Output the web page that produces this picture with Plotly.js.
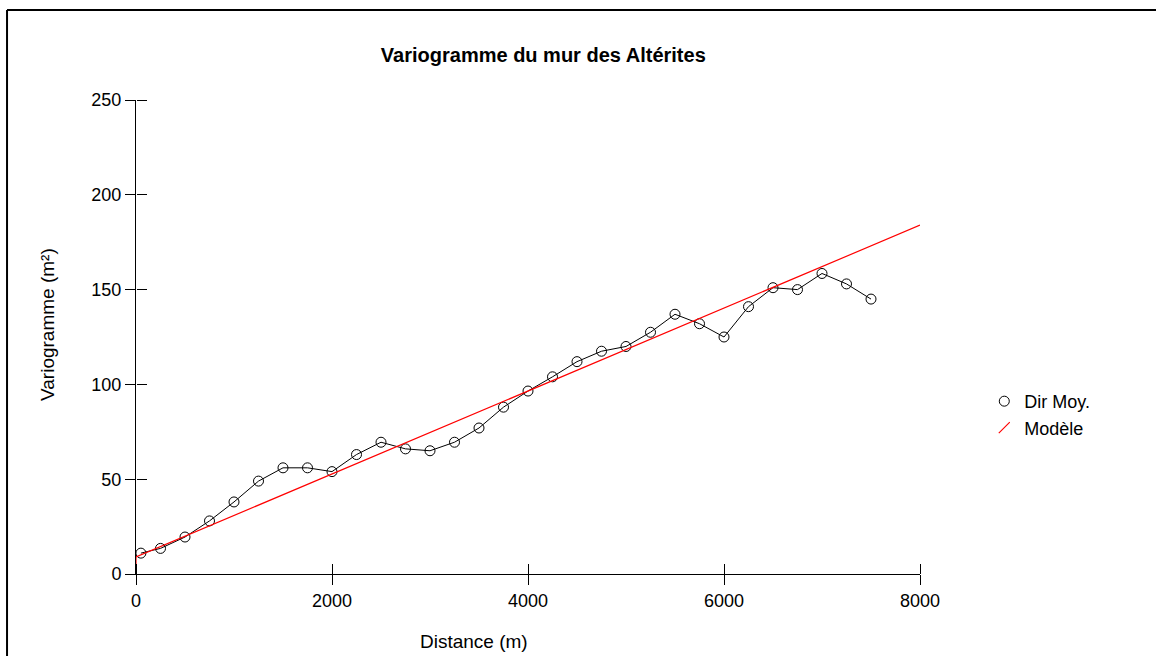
<!DOCTYPE html>
<html>
<head>
<meta charset="utf-8">
<script src="https://cdn.plot.ly/plotly-3.0.1.min.js"></script>
<style>
html,body{margin:0;padding:0;background:#fff;}
#chart{width:1156px;height:656px;}
</style>
</head>
<body>
<div id="chart"></div>
<script>
// Experimental variogram (Dir Moy.)
var distances = [50, 250, 500, 750, 1000, 1250, 1500, 1750, 2000, 2250, 2500, 2750, 3000, 3250, 3500, 3750, 4000, 4250, 4500, 4750, 5000, 5250, 5500, 5750, 6000, 6250, 6500, 6750, 7000, 7250, 7500];
var variogram = [11, 13.5, 19.5, 28, 38, 49, 56, 56, 54, 63, 69.5, 66, 65, 69.5, 77, 88, 96.5, 104, 112, 117.5, 120, 127.5, 137, 132, 125, 141, 151, 150, 158.5, 153, 145];
// Model (nugget + linear)
var modelX = [0, 0, 8000];
var modelY = [0, 9, 184];
var xTicks = [0, 2000, 4000, 6000, 8000];
var yTicks = [0, 50, 100, 150, 200, 250];

var FONT = 'Liberation Sans, Arial, sans-serif';

var traces = [
  {x: modelX, y: modelY, xaxis: 'x2', yaxis: 'y2', mode: 'lines', line: {color: '#ff0000', width: 1.2}, showlegend: false, hoverinfo: 'skip', cliponaxis: false},
  {x: distances, y: variogram, mode: 'lines', line: {color: '#000', width: 1}, showlegend: false, cliponaxis: false},
  {x: distances, y: variogram, mode: 'markers', name: 'Dir Moy.', cliponaxis: false,
   marker: {symbol: 'circle-open', size: 10, color: '#000', line: {color: '#000', width: 1}}},
  {x: [null], y: [null], mode: 'markers', name: 'Modèle',
   marker: {symbol: 'line-ne', size: 11, color: '#ff0000', line: {color: '#ff0000', width: 1.2}}}
];

var axisCommon = {
  showgrid: false, zeroline: false, showline: true, linecolor: '#000', linewidth: 1,
  ticks: 'outside', ticklen: 10, tickwidth: 1, tickcolor: '#000',
  tickfont: {family: FONT, size: 18, color: '#000'}
};

var layout = {
  width: 1156, height: 656,
  paper_bgcolor: '#fff', plot_bgcolor: '#fff',
  margin: {l: 136, r: 236, t: 100, b: 82},
  title: {text: 'Variogramme du mur des Altérites', font: {family: FONT, size: 20, color: '#000', weight: 'bold'},
          xref: 'container', x: 0.47, xanchor: 'center', yref: 'container', y: 0.916, yanchor: 'middle'},
  xaxis: Object.assign({}, axisCommon, {
    range: [0, 8000], tickvals: xTicks, ticktext: xTicks.map(String)
  }),
  yaxis: Object.assign({}, axisCommon, {
    range: [0, 250], tickvals: yTicks, ticktext: yTicks.map(String), ticklabelstandoff: 0
  }),
  // mirror axes whose outside ticks point into the plot, so that ticks cross the axis lines
  xaxis2: {overlaying: 'x', side: 'top', anchor: 'free', position: 0, range: [0, 8000], tickvals: xTicks, showticklabels: false,
           ticks: 'outside', ticklen: 10, tickwidth: 1, tickcolor: '#000', showgrid: false, zeroline: false, showline: false},
  yaxis2: {overlaying: 'y', side: 'right', anchor: 'free', position: 0, range: [0, 250], tickvals: yTicks, showticklabels: false,
           ticks: 'outside', ticklen: 10, tickwidth: 1, tickcolor: '#000', showgrid: false, zeroline: false, showline: false},
  legend: {x: 1.082, xanchor: 'left', y: 0.403, yanchor: 'top', font: {family: FONT, size: 18, color: '#000'},
           bgcolor: 'rgba(0,0,0,0)', tracegroupgap: 0},
  annotations: [
    {text: 'Distance (m)', xref: 'paper', yref: 'paper', x: 0, y: 0, xanchor: 'center', yanchor: 'middle', showarrow: false,
     font: {family: FONT, size: 19, color: '#000'}},
    {text: 'Variogramme (m²)', xref: 'paper', yref: 'paper', x: 0, y: 0, xanchor: 'center', yanchor: 'middle', showarrow: false, textangle: -90,
     font: {family: FONT, size: 19, color: '#000'}}
  ],
  shapes: [
    {type: 'line', xref: 'paper', yref: 'paper', x0: -0.1645, x1: 1.35, y0: 1.19, y1: 1.19, line: {color: '#000', width: 2}},
    {type: 'line', xref: 'paper', yref: 'paper', x0: -0.1645, x1: -0.1645, y0: 1.19, y1: -0.2, line: {color: '#000', width: 2}}
  ],
  showlegend: true
};
layout.annotations[0].x = (474 - 136) / 784;
layout.annotations[0].y = (574 - 641) / 474;
layout.annotations[1].x = (47 - 136) / 784;
layout.annotations[1].y = (574 - 325) / 474;

Plotly.newPlot('chart', traces, layout, {displayModeBar: false, staticPlot: true});
</script>
</body>
</html>
